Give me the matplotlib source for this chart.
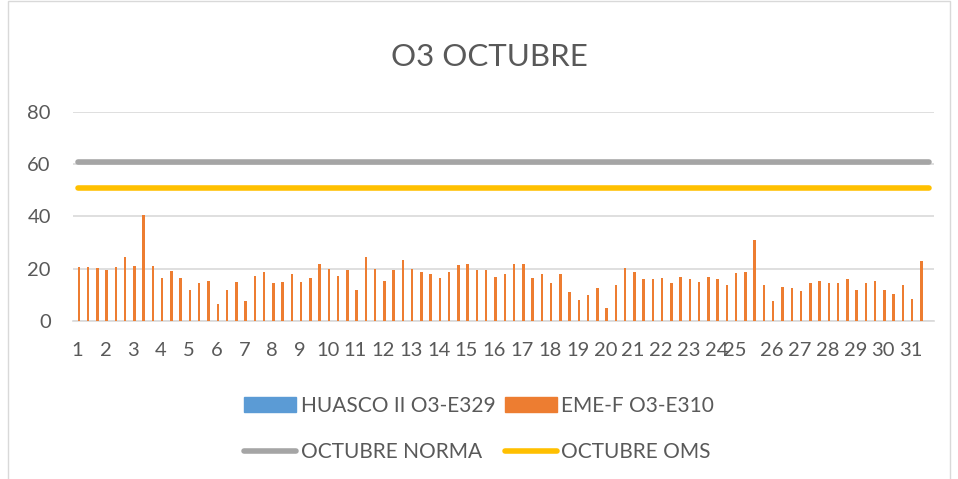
import numpy as np
import matplotlib.pyplot as plt
from matplotlib.patches import Rectangle, Patch
from matplotlib.lines import Line2D

plt.rcParams['font.family'] = ['Lato', 'DejaVu Sans']

# datos
days = [str(d) for d in range(1, 32)]
rows_per_day = [3] * 23 + [2, 4] + [3] * 6   # registros por dia en la hoja
eme_f = [20.6, 20.6, 20.1, 19.3, 20.6, 24.6, 21.1, 40.6, 21.1, 16.3,
         19.2, 16.3, 11.9, 14.3, 15.4, 6.5, 11.6, 15.0, 7.6, 17.3,
         18.8, 14.3, 14.9, 17.8, 15.0, 16.4, 21.7, 19.8, 17.3, 19.3,
         11.6, 24.6, 19.8, 15.4, 19.3, 23.2, 19.8, 18.8, 17.8, 16.4,
         18.8, 21.2, 21.7, 19.3, 19.3, 16.9, 17.8, 21.7, 21.7, 16.4,
         17.8, 14.3, 17.8, 10.9, 8.1, 10.0, 12.4, 4.7, 13.8, 20.2,
         18.8, 15.9, 15.9, 16.4, 14.3, 16.9, 15.9, 14.9, 16.9, 15.9,
         13.5, 18.3, 18.8, 31.0, 13.8, 7.6, 13.0, 12.4, 11.4, 14.3,
         15.4, 14.3, 14.3, 15.9, 11.9, 14.3, 15.4, 11.9, 10.4, 13.8,
         8.5, 22.7, np.nan]
huasco = []          # serie sin datos
norma = 61
oms = 51

categories = []
for d, n in zip(days, rows_per_day):
    categories += [d] + [''] * (n - 1)

x = np.arange(len(categories))
W, H = 958, 479
fig = plt.figure(figsize=(W / 100, H / 100), dpi=100)
ax = fig.add_axes([73 / W, 1 - 320.7 / H, (934 - 73) / W, (320.7 - 112) / H])

bw = 0.27
c_huasco, c_eme, c_norma, c_oms = '#5B9BD5', '#ED7D31', '#A5A5A5', '#FFC000'
ax.bar(huasco, huasco, width=bw, color=c_huasco)
ax.bar(x + bw / 2, eme_f, width=bw, color=c_eme, zorder=3)
ax.plot(x, [norma] * len(x), color=c_norma, lw=4, solid_capstyle='round', zorder=4)
ax.plot(x, [oms] * len(x), color=c_oms, lw=4, solid_capstyle='round', zorder=4)

ax.set_xlim(-0.5, len(x) - 0.5)
ax.set_ylim(0, 80)
ax.set_yticks([0, 20, 40, 60, 80])
ticks = [i for i, c in enumerate(categories) if c]
ax.set_xticks(ticks)
ax.set_xticklabels([categories[i] for i in ticks])
ax.tick_params(axis='both', length=0, labelsize=14.5, colors='#595959')
ax.tick_params(axis='y', pad=16)
ax.tick_params(axis='x', pad=15)
ax.grid(axis='y', color='#D9D9D9', lw=1.2, zorder=0)
ax.set_axisbelow(True)
for s in ['top', 'right', 'left']:
    ax.spines[s].set_visible(False)
ax.spines['bottom'].set_color('#D9D9D9')
ax.spines['bottom'].set_linewidth(1.2)

fig.text(489 / W, 1 - 57 / H, 'O3 OCTUBRE', ha='center', va='center',
         fontsize=22.5, color='#595959')

# leyenda: fila 1 barras, fila 2 lineas
handles = [Patch(color=c_huasco), Line2D([], [], color=c_norma, lw=4, solid_capstyle='round'),
           Patch(color=c_eme), Line2D([], [], color=c_oms, lw=4, solid_capstyle='round')]
labels = ['HUASCO II O3-E329', 'OCTUBRE NORMA', 'EME-F O3-E310', 'OCTUBRE OMS']
leg = fig.legend(handles, labels, ncol=2,
                 loc='center', bbox_to_anchor=(0.5, 1 - 429 / H), frameon=False,
                 fontsize=15, handlelength=2.5, handletextpad=0.2,
                 columnspacing=0.45, labelspacing=1.25)
for t in leg.get_texts():
    t.set_color('#595959')

fig.patches.append(Rectangle((8 / W, -0.02), (950 - 8) / W, 1.02 - 1.5 / H,
                             transform=fig.transFigure, fill=False,
                             edgecolor='#D9D9D9', lw=1))

fig.savefig('out.png', dpi=100)
